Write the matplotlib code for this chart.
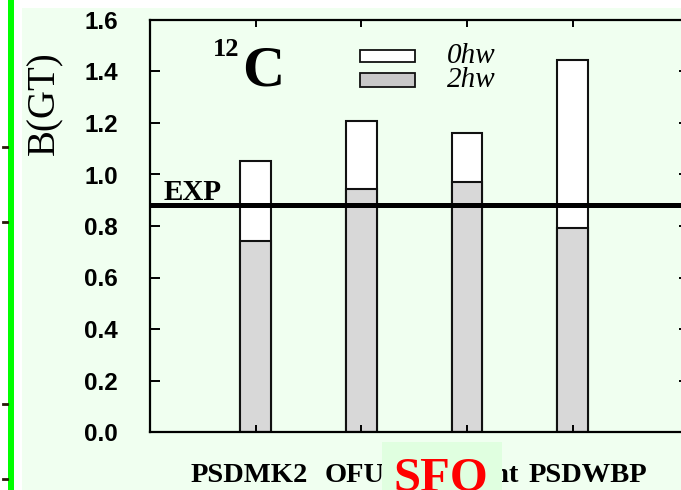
import matplotlib
matplotlib.use("Agg")
import matplotlib.pyplot as plt
from matplotlib.patches import Rectangle
from matplotlib.lines import Line2D
import matplotlib.transforms as mtransforms

# B(GT) strength for each interaction
models = ["PSDMK2", "OFUJI", "Present", "PSDWBP"]
bgt_0hw = [1.052, 1.208, 1.161, 1.445]
bgt_2hw = [0.742, 0.944, 0.971, 0.791]
bgt_exp = 0.883
yticks = [0.0, 0.2, 0.4, 0.6, 0.8, 1.0, 1.2, 1.4, 1.6]

W, H = 681, 490
fig = plt.figure(figsize=(W / 100, H / 100), dpi=100, facecolor="white")


def fx(px):
    return px / W


def fy(py):
    return 1 - py / H


# page background, side rule and margin marks
fig.patches.append(Rectangle((fx(22), 0), 1 - fx(22), fy(8), transform=fig.transFigure,
                             facecolor="#F0FFF0", edgecolor="none", zorder=-10))
fig.patches.append(Rectangle((fx(8), 0), fx(6), 1, transform=fig.transFigure,
                             facecolor="#00FF00", edgecolor="none", zorder=-9))
for py in [147, 222, 404, 479]:
    fig.lines.append(Line2D([fx(3), fx(7)], [fy(py), fy(py)], transform=fig.transFigure,
                            color="#2a1a0a", lw=2))

xmax = 5.1
unit_px = 105.7
ax = fig.add_axes([fx(150), fy(432), xmax * unit_px / W, (432 - 20) / H])
ax.set_facecolor("none")
ax.set_xlim(0, xmax)
ax.set_ylim(0, 1.6)

x = list(range(1, len(models) + 1))
bw = 0.29
ax.bar(x, bgt_0hw, width=bw, facecolor="white", edgecolor="#111111", lw=1.5, zorder=1)
ax.bar(x, bgt_2hw, width=bw, facecolor="#D8D8D8", edgecolor="#111111", lw=1.5, zorder=1.1)
ax.axhline(bgt_exp, color="black", lw=3.6, zorder=3)

for s in ax.spines.values():
    s.set_linewidth(1.6)
ax.set_yticks(yticks)
ax.set_yticklabels([f"{v:.1f}" for v in yticks], fontfamily="Liberation Sans",
                   fontweight="bold", fontsize=17.5)
ax.tick_params(axis="y", direction="in", length=7.5, width=1.4, right=True, pad=23)
ax.set_xticks(x)
ax.set_xticklabels([])
ax.tick_params(axis="x", direction="in", length=5, width=1.4, top=True)

serif = "Liberation Serif"
# model names under the axis
label_x = [0.94, 2.06, 3.06, 4.14]
trans = mtransforms.blended_transform_factory(ax.transData, fig.transFigure)
for lx, name in zip(label_x, models):
    ax.text(lx, fy(475), name, transform=trans, ha="center", va="center",
            fontfamily=serif, fontweight="bold", fontsize=20.5, clip_on=False)

# highlighted interaction tag
fig.patches.append(Rectangle((fx(382), 0), fx(120), fy(442), transform=fig.transFigure,
                             facecolor="#E0FFE0", edgecolor="none", zorder=5))
fig.text(fx(441), fy(491), "SFO", ha="center", va="baseline", color="#FF0000",
         fontfamily=serif, fontweight="bold", fontsize=35, zorder=6)

fig.text(fx(45), fy(103), "B(GT)", rotation=90, ha="center", va="center",
         fontfamily=serif, fontsize=28)

ax.text(fx(164), fy(200), "EXP", transform=fig.transFigure, ha="left", va="baseline",
        fontfamily=serif, fontweight="bold", fontsize=21)

fig.text(fx(226), fy(56), "12", ha="center", va="baseline", fontfamily=serif,
         fontweight="bold", fontsize=19)
fig.text(fx(242), fy(85), "C", ha="left", va="baseline", fontfamily=serif,
         fontweight="bold", fontsize=42)

# legend
for py0, py1, fc, lab in [(50, 62, "white", "0hw"), (73, 87, "#C8C8C8", "2hw")]:
    fig.patches.append(Rectangle((fx(360), fy(py1)), fx(55), (py1 - py0) / H,
                                 transform=fig.transFigure, facecolor=fc,
                                 edgecolor="#111111", lw=1.3))
    fig.text(fx(447), fy((py0 + py1) / 2 + 7), lab, ha="left", va="baseline",
             fontfamily=serif, fontstyle="italic", fontsize=21)

fig.savefig("out.png", dpi=100, facecolor="white")
